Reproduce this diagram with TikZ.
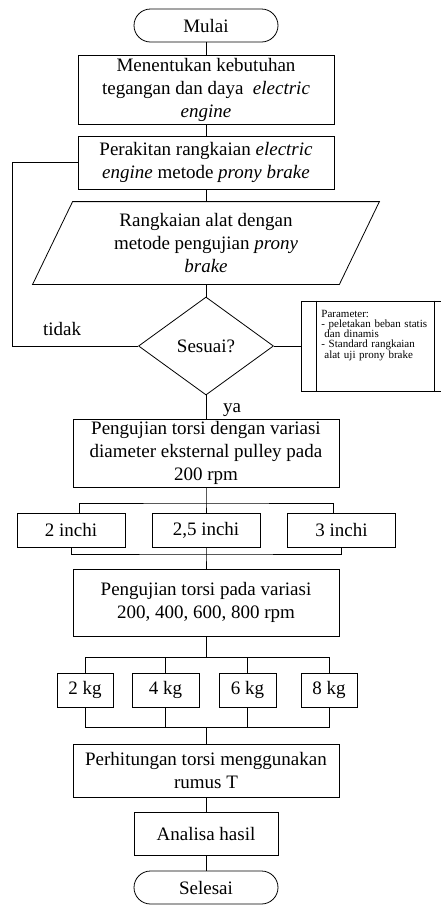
\documentclass[tikz,border=0pt]{standalone}
\usepackage{fontspec}
\setmainfont{Liberation Serif}
\usetikzlibrary{shapes.geometric, calc}

\begin{document}
\begin{tikzpicture}[x=1pt, y=-1pt, line width=0.8pt,
    every node/.style={font=\fontsize{19}{23}\selectfont, inner sep=0pt, align=center},
    process/.style={draw, rectangle, minimum width=#1},
    terminal/.style={draw, rectangle, rounded corners=16.5pt, minimum width=144pt, minimum height=33pt},
    decision/.style={draw, diamond, minimum width=135pt, minimum height=98pt}]
\useasboundingbox (0,0) rectangle (440,911);
\node[terminal] (mulai) at (206,25.5) {Mulai};
\node[process=256pt, minimum height=69pt] (kebutuhan) at (206,89.5) {Menentukan kebutuhan\\ tegangan dan daya \ \textit{electric}\\ \textit{engine}};
\node[process=256pt, minimum height=53pt] (perakitan) at (206,162.5) {Perakitan rangkaian \textit{electric}\\ \textit{engine} metode \textit{prony brake}};
\node[minimum width=306pt, minimum height=82pt] (rangkaian) at (206,243) {Rangkaian alat dengan\\ metode pengujian \textit{prony}\\ \textit{brake}};
\draw ([xshift=20pt]rangkaian.north west) -- ([xshift=20pt]rangkaian.north east) -- ([xshift=-20pt]rangkaian.south east) -- ([xshift=-20pt]rangkaian.south west) -- cycle;
\node[decision] (sesuai) at (206,346) {Sesuai?};
\node[draw, minimum width=149pt, minimum height=90pt] (parameter) at (375.5,346) {};
\draw ([xshift=16pt]parameter.north west) -- ([xshift=16pt]parameter.south west);
\draw ([xshift=-16pt]parameter.north east) -- ([xshift=-16pt]parameter.south east);
\node[anchor=north west, align=left, text width=114pt, font=\fontsize{11}{9.4}\selectfont] (paramtext) at (321,310) {Parameter:\\- peletakan beban statis\\\hspace*{3pt}dan dinamis\\- Standard rangkaian\\\hspace*{3pt}alat uji prony brake};
\node[anchor=base] (tidak) at (62,335) {tidak};
\node[anchor=base] (ya) at (232,412) {ya};

\draw (mulai) -- (kebutuhan);
\draw (kebutuhan) -- (perakitan);
\draw (perakitan) -- (rangkaian.north);
\draw (rangkaian.south) -- (sesuai.north);
\draw (sesuai.west) -| ([xshift=-65pt]perakitan.west) -- (perakitan.west);
\draw (sesuai.east) -- (parameter.west);

\node[process=266pt, minimum height=68pt] (pengujian) at (206,453) {Pengujian torsi dengan variasi\\ diameter eksternal pulley pada\\ 200 rpm};
\draw (sesuai.south) -- (pengujian.north);
\node[process=108pt, minimum height=34pt] (inchA) at (71,530) {2 inchi};
\node[process=108pt, minimum height=34pt] (inchB) at (206,530) {2,5 inchi};
\node[process=108pt, minimum height=34pt] (inchC) at (341.5,530) {3 inchi};
\coordinate (splitinch) at (206,503);
\coordinate (joininch) at (206,554);
\draw (pengujian.south) -- (splitinch) -- (inchB.north);
\draw ([xshift=8pt]inchA.north) |- (splitinch) -| ([xshift=-8pt]inchC.north);
\draw (inchA.south) |- (joininch) -| (inchC.south);

\node[process=266pt, minimum height=67pt] (pengujianrpm) at (206,602.5) {Pengujian torsi pada variasi\\ 200, 400, 600, 800 rpm};
\draw (inchB.south) -- (joininch) -- (pengujianrpm.north);
\coordinate (splitkg) at (206,657);
\coordinate (joinkg) at (206,727);
\draw (pengujianrpm.south) -- (splitkg);
\foreach \name/\x/\w/\kg in {kgA/85/56/2, kgB/165.5/67/4, kgC/247.5/57/6, kgD/329/56/8}{
    \node[process=\w pt, minimum height=34pt] (\name) at (\x,690) {\kg\ kg};
    \draw (\name.north) |- (splitkg);
    \draw (\name.south) |- (joinkg);
}

\node[process=266pt, minimum height=53pt] (perhitungan) at (206,770.5) {Perhitungan torsi menggunakan\\ rumus T};
\draw (joinkg) -- (perhitungan.north);
\node[process=144pt, minimum height=43pt] (analisa) at (206,833.5) {Analisa hasil};
\node[terminal] (selesai) at (206,887.5) {Selesai};
\draw (perhitungan) -- (analisa);
\draw (analisa) -- (selesai);
\end{tikzpicture}
\end{document}
